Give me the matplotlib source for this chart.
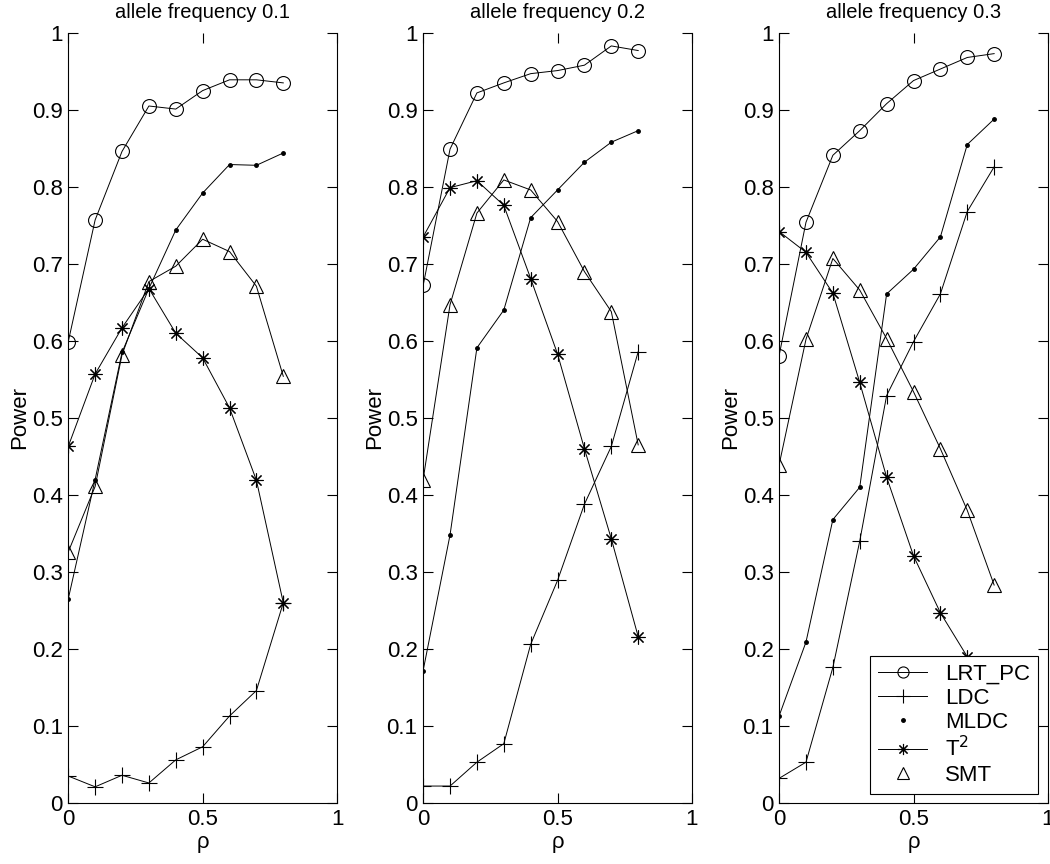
import numpy as np
import matplotlib.pyplot as plt
from matplotlib.lines import Line2D

plt.rcParams['font.family'] = ['Liberation Sans', 'DejaVu Sans']
plt.rcParams['font.size'] = 16

# correlation values on the x axis
rho = [0, 0.1, 0.2, 0.3, 0.4, 0.5, 0.6, 0.7, 0.8]

titles = ['allele frequency 0.1', 'allele frequency 0.2', 'allele frequency 0.3']

# power per method, one list per panel
lrt_pc = [
    [0.599, 0.757, 0.846, 0.905, 0.901, 0.925, 0.939, 0.939, 0.935],
    [0.672, 0.849, 0.922, 0.935, 0.947, 0.951, 0.958, 0.983, 0.977],
    [0.581, 0.754, 0.841, 0.873, 0.908, 0.938, 0.953, 0.968, 0.973],
]
ldc = [
    [0.035, 0.021, 0.036, 0.026, 0.056, 0.073, 0.113, 0.146, 0.260],
    [0.022, 0.022, 0.053, 0.077, 0.206, 0.289, 0.388, 0.463, 0.586],
    [0.032, 0.053, 0.176, 0.340, 0.529, 0.599, 0.661, 0.768, 0.826],
]
mldc = [
    [0.265, 0.420, 0.585, 0.668, 0.744, 0.792, 0.829, 0.828, 0.844],
    [0.172, 0.348, 0.591, 0.640, 0.760, 0.796, 0.832, 0.858, 0.873],
    [0.113, 0.209, 0.368, 0.410, 0.661, 0.693, 0.735, 0.855, 0.888],
]
t2 = [
    [0.463, 0.557, 0.617, 0.668, 0.610, 0.578, 0.513, 0.419, 0.260],
    [0.735, 0.799, 0.808, 0.776, 0.681, 0.583, 0.460, 0.343, 0.216],
    [0.742, 0.715, 0.662, 0.546, 0.423, 0.321, 0.247, 0.190, 0.120],
]
smt = [
    [0.326, 0.411, 0.582, 0.677, 0.697, 0.732, 0.716, 0.671, 0.554],
    [0.420, 0.647, 0.766, 0.809, 0.796, 0.755, 0.690, 0.638, 0.465],
    [0.439, 0.602, 0.707, 0.666, 0.603, 0.534, 0.460, 0.380, 0.283],
]

xticks = [0, 0.5, 1]
xticklabels = ['0', '0.5', '1']
yticks = [0, 0.1, 0.2, 0.3, 0.4, 0.5, 0.6, 0.7, 0.8, 0.9, 1]
yticklabels = ['0', '0.1', '0.2', '0.3', '0.4', '0.5', '0.6', '0.7', '0.8', '0.9', '1']

asterisk = (8, 2, 0)
lw = 0.7

fig = plt.figure(figsize=(10.5, 8.64), dpi=100)
lefts = [0.065, 0.403, 0.742]

for i in range(3):
    ax = fig.add_axes([lefts[i], 0.0706, 0.256, 0.8914])
    ax.plot(rho, lrt_pc[i], color='k', lw=lw, marker='o', ms=10, mfc='none', mew=0.8)
    ax.plot(rho, ldc[i], color='k', lw=lw, marker='+', ms=12, mew=0.8)
    ax.plot(rho, mldc[i], color='k', lw=lw, marker='.', ms=5)
    ax.plot(rho, t2[i], color='k', lw=lw, marker=asterisk, ms=10, mew=0.8)
    ax.plot(rho, smt[i], color='k', lw=lw, marker='^', ms=10, mfc='none', mew=0.8)

    ax.set_xlim(0, 1)
    ax.set_ylim(0, 1)
    ax.set_xticks(xticks)
    ax.set_xticklabels(xticklabels)
    ax.set_yticks(yticks)
    ax.set_yticklabels(yticklabels)
    ax.tick_params(direction='in', length=7, top=True, right=True, labelsize=16, pad=4)
    ax.spines['top'].set_visible(False)
    ax.set_title(titles[i], fontsize=14.5, pad=11)
    ax.set_xlabel('ρ', fontsize=16, labelpad=2)
    ax.set_ylabel('Power', fontsize=16, labelpad=1)

    if i == 2:
        handles = [
            Line2D([], [], color='k', lw=lw, marker='o', ms=8, mfc='none', mew=0.8),
            Line2D([], [], color='k', lw=lw, marker='+', ms=10, mew=0.8),
            Line2D([], [], color='k', ls='none', marker='.', ms=5),
            Line2D([], [], color='k', lw=lw, marker=asterisk, ms=8, mew=0.8),
            Line2D([], [], color='k', ls='none', marker='^', ms=8, mfc='none', mew=0.8),
        ]
        labels = ['LRT_PC', 'LDC', 'MLDC', 'T$^2$', 'SMT']
        leg = ax.legend(handles, labels, loc='lower right', bbox_to_anchor=(0.962, 0.012),
                        borderaxespad=0, fancybox=False, framealpha=1, edgecolor='k',
                        fontsize=16, handlelength=2.2, handletextpad=0.8,
                        labelspacing=0.15, borderpad=0.35)
        leg.get_frame().set_linewidth(0.8)

fig.savefig('out.png', dpi=100)
